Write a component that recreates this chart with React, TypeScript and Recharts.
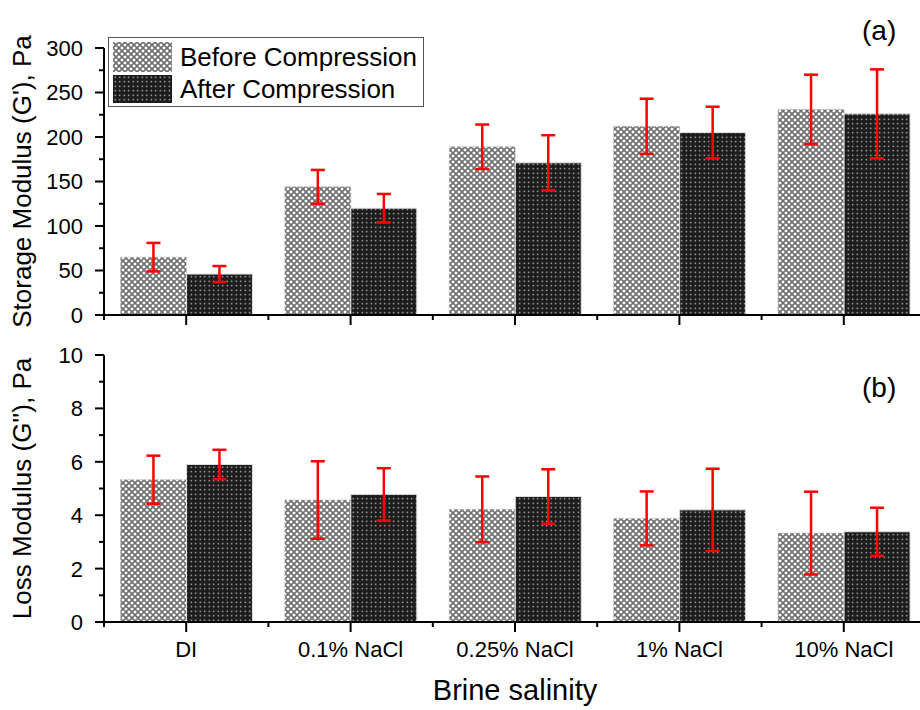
import React from "react";
import { BarChart, Bar, XAxis, YAxis, ErrorBar } from "recharts";

const categories = ["DI", "0.1% NaCl", "0.25% NaCl", "1% NaCl", "10% NaCl"];

// storage modulus G' (Pa)
const storageBefore = [65, 144, 189, 212, 231];
const storageBeforeErr = [16, 19, 25, 31, 39];
const storageAfter = [46, 120, 171, 205, 226];
const storageAfterErr = [9, 16, 31, 29, 50];

// loss modulus G'' (Pa)
const lossBefore = [5.33, 4.57, 4.22, 3.88, 3.33];
const lossBeforeErr = [0.9, 1.45, 1.23, 1.01, 1.55];
const lossAfter = [5.9, 4.78, 4.7, 4.2, 3.38];
const lossAfterErr = [0.55, 0.98, 1.02, 1.54, 0.9];

const storageTicks = [0, 25, 50, 75, 100, 125, 150, 175, 200, 225, 250, 275, 300];
const lossTicks = [0, 1, 2, 3, 4, 5, 6, 7, 8, 9, 10];

const storageData = categories.map((c, i) => ({
  name: c,
  before: storageBefore[i],
  beforeErr: storageBeforeErr[i],
  after: storageAfter[i],
  afterErr: storageAfterErr[i],
}));

const lossData = categories.map((c, i) => ({
  name: c,
  before: lossBefore[i],
  beforeErr: lossBeforeErr[i],
  after: lossAfter[i],
  afterErr: lossAfterErr[i],
}));

const FONT = "'Liberation Sans', Arial, sans-serif";
const CHART_W = 926;

function yTick(majorEvery: number) {
  return (props: any) => {
    const { x, y, payload } = props;
    const v = payload.value;
    const major = Math.abs(v / majorEvery - Math.round(v / majorEvery)) < 1e-6;
    return (
      <g>
        <line x1={x} x2={x - (major ? 9 : 5)} y1={y} y2={y} stroke="#000" strokeWidth={2} />
        {major && (
          <text x={x - 21} y={y} dy="0.36em" textAnchor="end" fontSize={22} fill="#000">
            {v}
          </text>
        )}
      </g>
    );
  };
}

// major tick at the category centre, minor ticks at the band edges
function xTick(showLabels: boolean) {
  return (props: any) => {
    const { x, y, payload, index, visibleTicksCount, width } = props;
    const half = payload.offset || width / visibleTicksCount / 2;
    return (
      <g>
        <line x1={x - half} x2={x - half} y1={y} y2={y + 5} stroke="#000" strokeWidth={2} />
        {index === visibleTicksCount - 1 && (
          <line x1={x + half} x2={x + half} y1={y} y2={y + 5} stroke="#000" strokeWidth={2} />
        )}
        <line x1={x} x2={x} y1={y} y2={y + 10} stroke="#000" strokeWidth={2} />
        {showLabels && (
          <text x={x} y={y + 19} dy="0.71em" textAnchor="middle" fontSize={22} fill="#000">
            {payload.value}
          </text>
        )}
      </g>
    );
  };
}

function Patterns() {
  return (
    <svg width={0} height={0} style={{ position: "absolute" }}>
      <defs>
        <pattern id="pBefore" patternUnits="userSpaceOnUse" width={6} height={6}>
          <rect width={6} height={6} fill="#fff" />
          <path d="M0,0 L6,6 M6,0 L0,6" stroke="#6e6e6e" strokeWidth={1.6} />
        </pattern>
        <pattern id="pAfter" patternUnits="userSpaceOnUse" width={4.5} height={4.5}>
          <rect width={4.5} height={4.5} fill="#1c1c1c" />
          <rect x={1.6} y={1.6} width={1.3} height={1.3} fill="#d8d8d8" />
        </pattern>
      </defs>
    </svg>
  );
}

function Panel({ data, max, ticks, majorEvery, showLabels, marginTop, bottomSpace, title }: any) {
  return (
    <BarChart
      width={CHART_W}
      height={marginTop + 267 + 1 + bottomSpace}
      data={data}
      margin={{ top: marginTop, right: 0, bottom: bottomSpace, left: 0 }}
      barCategoryGap="10%"
      barGap={0}
    >
      <XAxis
        dataKey="name"
        height={1}
        interval={0}
        tickSize={0}
        tickMargin={0}
        tickLine={false}
        tick={xTick(showLabels)}
        axisLine={{ stroke: "#000", strokeWidth: 2 }}
      />
      <YAxis
        width={104}
        domain={[0, max]}
        ticks={ticks}
        interval={0}
        tickSize={0}
        tickMargin={0}
        tickLine={false}
        tick={yTick(majorEvery)}
        axisLine={{ stroke: "#000", strokeWidth: 2 }}
        label={{
          content: ({ viewBox }: any) => {
            const cx = 22;
            const cy = viewBox.y + viewBox.height / 2;
            return (
              <text
                x={cx}
                y={cy}
                dy="0.36em"
                textAnchor="middle"
                fontSize={26}
                fill="#000"
                transform={`rotate(-90, ${cx}, ${cy})`}
              >
                {title}
              </text>
            );
          },
        }}
      />
      <Bar
        dataKey="before"
        fill="url(#pBefore)"
        stroke="#bdbdbd"
        strokeDasharray="2 2"
        strokeWidth={1}
        isAnimationActive={false}
      >
        <ErrorBar dataKey="beforeErr" stroke="#ff0000" strokeWidth={2.5} width={7} />
      </Bar>
      <Bar
        dataKey="after"
        fill="url(#pAfter)"
        stroke="#e0e0e0"
        strokeWidth={1}
        isAnimationActive={false}
      >
        <ErrorBar dataKey="afterErr" stroke="#ff0000" strokeWidth={2.5} width={7} />
      </Bar>
    </BarChart>
  );
}

function LegendBox() {
  const row = (id: string, label: string, top: number, h: number) => (
    <div style={{ position: "absolute", left: 4, top, height: h, display: "flex", alignItems: "center" }}>
      <svg width={59} height={h} style={{ flex: "none" }}>
        <rect width={59} height={h} fill={`url(#${id})`} />
      </svg>
      <span style={{ marginLeft: 8, fontSize: 26, lineHeight: 1, whiteSpace: "nowrap" }}>{label}</span>
    </div>
  );
  return (
    <div
      style={{
        position: "absolute",
        left: 108,
        top: 37,
        width: 314,
        height: 68,
        border: "1.5px solid #555",
        background: "#fff",
      }}
    >
      {row("pBefore", "Before Compression", 4, 30)}
      {row("pAfter", "After Compression", 37, 28)}
    </div>
  );
}

export default function App() {
  return (
    <div
      style={{
        position: "absolute",
        left: 0,
        top: 0,
        width: 920,
        height: 710,
        overflow: "hidden",
        background: "#fff",
        fontFamily: FONT,
        color: "#000",
      }}
    >
      <Patterns />
      <div style={{ position: "absolute", left: 0, top: 0 }}>
        <Panel
          data={storageData}
          max={300}
          ticks={storageTicks}
          majorEvery={50}
          showLabels={false}
          marginTop={48}
          bottomSpace={12}
          title="Storage Modulus (G'), Pa"
        />
      </div>
      <div style={{ position: "absolute", left: 0, top: 330 }}>
        <Panel
          data={lossData}
          max={10}
          ticks={lossTicks}
          majorEvery={2}
          showLabels={true}
          marginTop={25}
          bottomSpace={50}
          title={"Loss Modulus (G''), Pa"}
        />
      </div>
      <LegendBox />
      <div style={{ position: "absolute", left: 862, top: 15, fontSize: 28 }}>(a)</div>
      <div style={{ position: "absolute", left: 862, top: 372, fontSize: 28 }}>(b)</div>
      <div
        style={{
          position: "absolute",
          left: 0,
          width: 1030,
          top: 674,
          textAlign: "center",
          fontSize: 29,
        }}
      >
        Brine salinity
      </div>
    </div>
  );
}
